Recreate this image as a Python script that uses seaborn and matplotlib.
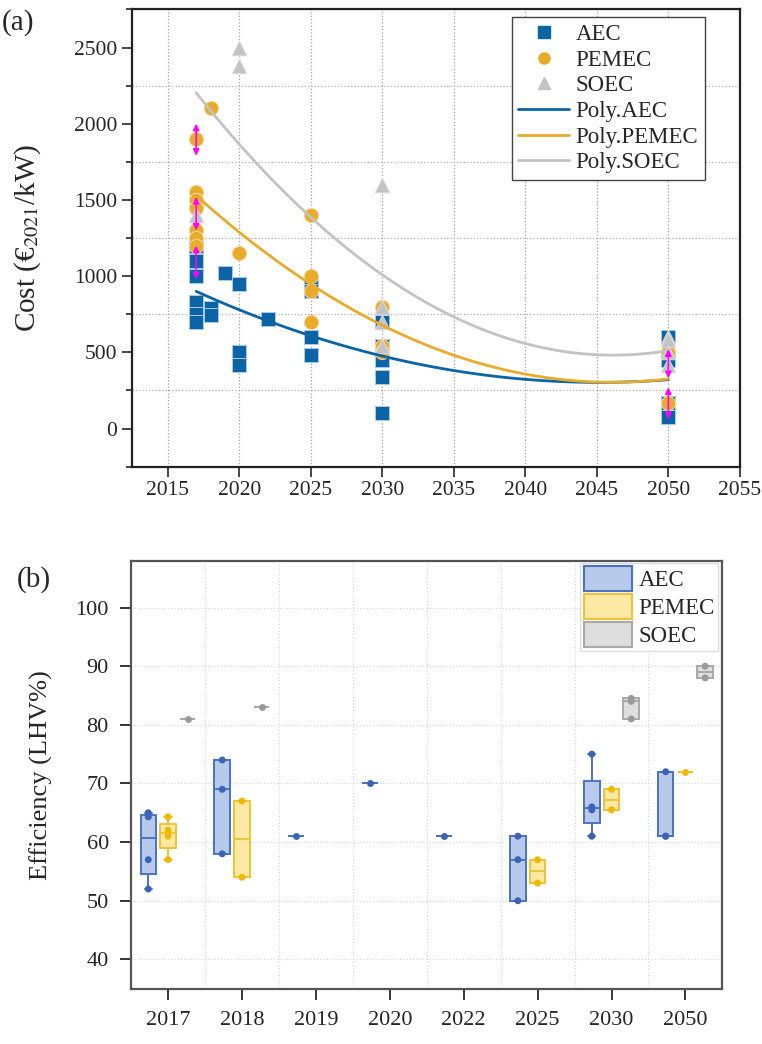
import numpy as np
import pandas as pd
import matplotlib
matplotlib.use("Agg")
import matplotlib.pyplot as plt
from matplotlib.patches import Patch
from matplotlib.lines import Line2D
from matplotlib.ticker import MultipleLocator
import seaborn as sns

# ---- panel (a): investment cost per year ----
aec_year = [2017, 2017, 2017, 2017, 2017, 2017, 2018, 2018, 2019, 2020, 2020, 2020,
            2022, 2025, 2025, 2025, 2025, 2030, 2030, 2030, 2030, 2030,
            2050, 2050, 2050, 2050]
aec_cost = [1200, 1100, 1000, 830, 750, 700, 790, 745, 1020, 950, 500, 420,
            720, 950, 900, 600, 480, 700, 540, 450, 340, 100,
            600, 450, 170, 75]

pemec_year = [2017, 2017, 2017, 2017, 2017, 2017, 2017, 2018, 2020,
              2025, 2025, 2025, 2025, 2030, 2030, 2030, 2050, 2050]
pemec_cost = [1900, 1550, 1500, 1450, 1300, 1250, 1200, 2100, 1150,
              1400, 1000, 900, 700, 800, 540, 500, 500, 170]

soec_year = [2017, 2020, 2020, 2030, 2030, 2030, 2030, 2050, 2050, 2050, 2050]
soec_cost = [1400, 2500, 2380, 1600, 800, 700, 540, 600, 580, 500, 420]

# magenta range arrows
arrow_year = [2017, 2017, 2017, 2050, 2050]
arrow_lo = [1790, 1300, 980, 330, 60]
arrow_hi = [2000, 1520, 1200, 520, 270]

# ---- panel (b): efficiency per year ----
eff_years = ["2017", "2018", "2019", "2020", "2022", "2025", "2030", "2050"]
techs = ["AEC", "PEMEC", "SOEC"]
aec_eff = [[52, 57, 64.3, 65], [58, 69, 74], [61], [70], [61], [50, 57, 61],
           [61, 65.5, 66, 75], [61, 61, 72]]
pemec_eff = [[57, 61, 62, 64.3], [54, 67], [], [], [], [53, 57], [65.5, 69], [72]]
soec_eff = [[81], [83], [], [], [], [], [81, 84, 84.5], [88, 90]]

# colours
c_aec, c_pem, c_soec = "#0b64a6", "#e9ab2a", "#c3c3c3"
box_face = {"AEC": "#b8caeb", "PEMEC": "#fde8a4", "SOEC": "#dedede"}
box_edge = {"AEC": "#4b73c2", "PEMEC": "#f0c335", "SOEC": "#a9a9a9"}
dot_col = {"AEC": "#3c64b6", "PEMEC": "#efb900", "SOEC": "#9a9a9a"}

sns.set_theme(style="white")
plt.rcParams["font.family"] = ["Liberation Serif", "DejaVu Serif"]
plt.rcParams["mathtext.fontset"] = "stix"

fig = plt.figure(figsize=(7.62, 10.44), dpi=100)
ax1 = fig.add_axes([0.173, 0.553, 0.798, 0.438])
ax2 = fig.add_axes([0.172, 0.053, 0.776, 0.410])

#%% panel (a)
sns.scatterplot(x=aec_year, y=aec_cost, marker="s", s=95, color=c_aec,
                edgecolor="#a9cbe6", linewidth=0.7, ax=ax1, zorder=2)
sns.scatterplot(x=pemec_year, y=pemec_cost, marker="o", s=105, color=c_pem,
                edgecolor="#f3d9a0", linewidth=0.7, ax=ax1, zorder=2)
sns.scatterplot(x=soec_year, y=soec_cost, marker="^", s=110, color=c_soec,
                edgecolor="#dddddd", linewidth=0.7, ax=ax1, zorder=2)

for yrs, cst, col in [(aec_year, aec_cost, c_aec), (pemec_year, pemec_cost, c_pem),
                      (soec_year, soec_cost, c_soec)]:
    sns.regplot(x=yrs, y=cst, order=2, ci=None, scatter=False, truncate=True,
                color=col, line_kws={"lw": 2, "zorder": 3}, ax=ax1)

for yr, lo, hi in zip(arrow_year, arrow_lo, arrow_hi):
    ax1.annotate("", xy=(yr, hi), xytext=(yr, lo),
                 arrowprops=dict(arrowstyle="<|-|>", color="#ff00ff", lw=1.2,
                                 mutation_scale=9, shrinkA=0, shrinkB=0), zorder=4)

ax1.set_xlim(2012.5, 2055)
ax1.set_ylim(-250, 2750)
ax1.xaxis.set_major_locator(MultipleLocator(5))
ax1.yaxis.set_major_locator(MultipleLocator(500))
ax1.yaxis.set_minor_locator(MultipleLocator(250))
ax1.grid(True, axis="x", which="major", ls=":", color="#a0a0a0", lw=0.9)
ax1.grid(True, axis="y", which="minor", ls=":", color="#b0b0b0", lw=0.9)
ax1.tick_params(axis="both", which="major", direction="out", length=7, width=1.2,
                labelsize=15.5, left=True, bottom=True)
ax1.tick_params(axis="y", which="minor", direction="out", length=4, width=1.2, left=True)
for sp in ax1.spines.values():
    sp.set_color("#222222")
    sp.set_linewidth(1.6)
ax1.set_ylabel("Cost (€$_{2021}$/kW)", fontsize=21, labelpad=22)

h1 = [Line2D([], [], ls="none", marker="s", ms=8, color=c_aec),
      Line2D([], [], ls="none", marker="o", ms=8, color=c_pem),
      Line2D([], [], ls="none", marker="^", ms=8, color=c_soec),
      Line2D([], [], color=c_aec, lw=2),
      Line2D([], [], color=c_pem, lw=2),
      Line2D([], [], color=c_soec, lw=2)]
l1 = ["AEC", "PEMEC", "SOEC", "Poly.AEC", "Poly.PEMEC", "Poly.SOEC"]
leg = ax1.legend(h1, l1, loc="upper right", bbox_to_anchor=(0.943, 0.983), fontsize=16.5,
                 frameon=True, fancybox=False, framealpha=1, edgecolor="#444444",
                 handlelength=2.2, labelspacing=0.2, borderpad=0.3, handletextpad=0.3,
                 borderaxespad=0)
leg.get_frame().set_linewidth(1.0)

#%% panel (b)
rows = []
for i, yr in enumerate(eff_years):
    for tech, vals in zip(techs, [aec_eff[i], pemec_eff[i], soec_eff[i]]):
        for v in vals:
            rows.append({"year": yr, "tech": tech, "value": v})
eff = pd.DataFrame(rows)

sns.stripplot(data=eff, x="year", y="value", hue="tech", order=eff_years,
              hue_order=techs, dodge=True, jitter=False, palette=dot_col,
              size=5, legend=False, ax=ax2, zorder=4)

offsets = [-0.8 / 3, 0.0, 0.8 / 3]
for i, yr in enumerate(eff_years):
    for j, (tech, vals) in enumerate(zip(techs, [aec_eff[i], pemec_eff[i], soec_eff[i]])):
        if not vals:
            continue
        q1, med, q3 = np.percentile(vals, [25, 50, 75], method="averaged_inverted_cdf")
        iqr = q3 - q1
        inside = [v for v in vals if q1 - 1.5 * iqr <= v <= q3 + 1.5 * iqr]
        st = dict(med=med, q1=q1, q3=q3, whislo=min(inside), whishi=max(inside), fliers=[])
        ax2.bxp([st], positions=[i + offsets[j]], widths=0.21, patch_artist=True,
                manage_ticks=False, showfliers=False, capwidths=0.1,
                boxprops=dict(facecolor=box_face[tech], edgecolor=box_edge[tech], lw=1.4),
                medianprops=dict(color=box_edge[tech], lw=1.4),
                whiskerprops=dict(color=box_edge[tech], lw=1.4),
                capprops=dict(color=box_edge[tech], lw=1.4), zorder=3)

ax2.set_xlim(-0.5, len(eff_years) - 0.5)
ax2.set_ylim(35, 108)
ax2.set_xticks(range(len(eff_years)))
ax2.set_xticklabels(eff_years)
ax2.set_yticks([40, 50, 60, 70, 80, 90, 100])
ax2.set_xticks(np.arange(0.5, len(eff_years) - 0.5), minor=True)
ax2.grid(True, axis="y", which="major", ls=":", color="#d8d8d8", lw=0.9)
ax2.grid(True, axis="x", which="minor", ls=":", color="#d8d8d8", lw=0.9)
ax2.tick_params(axis="both", which="major", direction="out", length=8, width=1.3,
                labelsize=16, left=True, bottom=True, pad=8)
ax2.tick_params(axis="x", which="minor", length=0)
for sp in ax2.spines.values():
    sp.set_color("#555555")
    sp.set_linewidth(1.6)
ax2.set_xlabel("")
ax2.set_ylabel("Efficiency (LHV%)", fontsize=19, labelpad=16)

h2 = [Patch(facecolor=box_face[t], edgecolor=box_edge[t], lw=1.5) for t in techs]
leg2 = ax2.legend(h2, techs, loc="upper right", bbox_to_anchor=(0.993, 0.995), fontsize=16.5,
                  frameon=True, fancybox=False, framealpha=1, edgecolor="#dddddd",
                  handlelength=2.1, handleheight=1.3, labelspacing=0.12,
                  borderpad=0.15, handletextpad=0.3, borderaxespad=0)

fig.text(0.002, 0.972, "(a)", fontsize=21)
fig.text(0.022, 0.438, "(b)", fontsize=21)

fig.savefig("out.png", dpi=100)
